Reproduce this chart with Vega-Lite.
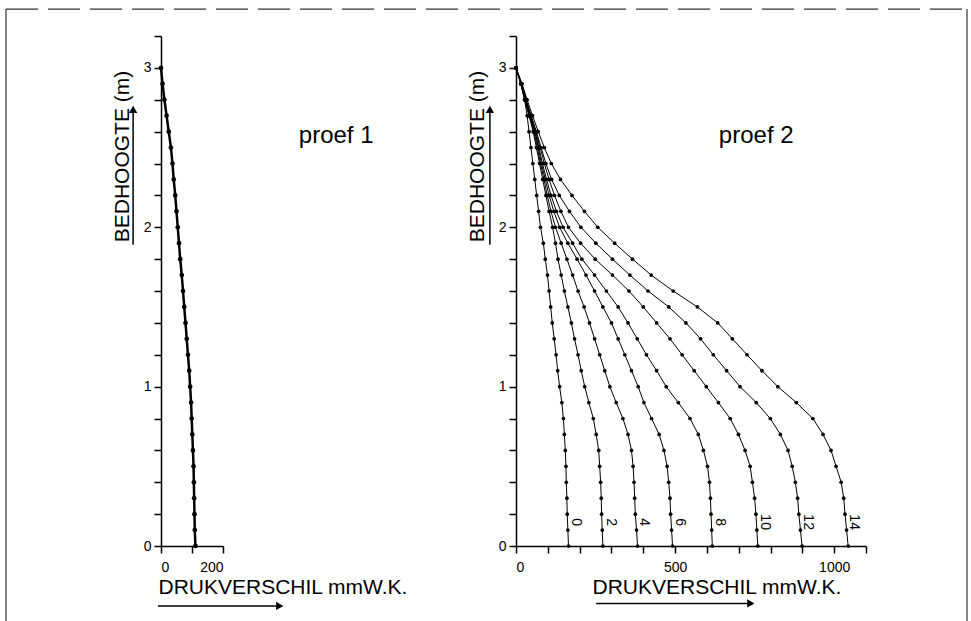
{
  "$schema": "https://vega.github.io/schema/vega-lite/v6.json",
  "padding": {"left": 5, "top": 8, "right": 5, "bottom": 0},
  "background": "white",
  "bounds": "flush",
  "spacing": 293,
  "config": {
    "view": {"stroke": null},
    "font": "Liberation Sans",
    "axis": {
      "domainColor": "black", "domainWidth": 1.5, "tickColor": "black", "tickWidth": 1.5,
      "labelColor": "black", "titleColor": "black", "grid": false,
      "labelFont": "Liberation Sans", "labelFontSize": 14,
      "titleFont": "Liberation Sans",
      "titleFontSize": 21, "titleFontWeight": "normal"
    }
  },
  "datasets": {
    "p1": [
      {"h":3,"d":0},{"h":2.9,"d":5},{"h":2.8,"d":11},{"h":2.7,"d":18},{"h":2.6,"d":25},{"h":2.5,"d":32},{"h":2.4,"d":37},{"h":2.3,"d":41},{"h":2.2,"d":46},{"h":2.1,"d":50},{"h":2,"d":54},{"h":1.9,"d":58},{"h":1.8,"d":62},{"h":1.7,"d":67},{"h":1.6,"d":71},{"h":1.5,"d":75},{"h":1.4,"d":79},{"h":1.3,"d":83},{"h":1.2,"d":87},{"h":1.1,"d":91},{"h":1,"d":94},{"h":0.9,"d":97},{"h":0.8,"d":99},{"h":0.7,"d":101},{"h":0.6,"d":103},{"h":0.5,"d":105},{"h":0.4,"d":106},{"h":0.3,"d":107},{"h":0.2,"d":108},{"h":0.1,"d":109},{"h":0,"d":111}
    ],
    "p2": [
      {"c":"0","h":3,"d":0},{"c":"0","h":2.9,"d":15},{"c":"0","h":2.8,"d":27},{"c":"0","h":2.7,"d":35},{"c":"0","h":2.6,"d":41},{"c":"0","h":2.5,"d":47},{"c":"0","h":2.4,"d":53},{"c":"0","h":2.3,"d":59},{"c":"0","h":2.2,"d":65},{"c":"0","h":2.1,"d":71},{"c":"0","h":2,"d":77},{"c":"0","h":1.9,"d":86},{"c":"0","h":1.8,"d":92},{"c":"0","h":1.7,"d":99},{"c":"0","h":1.6,"d":104},{"c":"0","h":1.5,"d":109},{"c":"0","h":1.4,"d":114},{"c":"0","h":1.3,"d":120},{"c":"0","h":1.2,"d":126},{"c":"0","h":1.1,"d":131},{"c":"0","h":1,"d":137},{"c":"0","h":0.9,"d":144},{"c":"0","h":0.8,"d":149},{"c":"0","h":0.7,"d":152},{"c":"0","h":0.6,"d":155},{"c":"0","h":0.5,"d":157},{"c":"0","h":0.4,"d":158},{"c":"0","h":0.3,"d":160},{"c":"0","h":0.2,"d":161},{"c":"0","h":0.1,"d":163},{"c":"0","h":0,"d":165},
      {"c":"2","h":3,"d":0},{"c":"2","h":2.9,"d":15},{"c":"2","h":2.8,"d":27},{"c":"2","h":2.7,"d":41},{"c":"2","h":2.6,"d":54},{"c":"2","h":2.5,"d":64},{"c":"2","h":2.4,"d":74},{"c":"2","h":2.3,"d":84},{"c":"2","h":2.2,"d":94},{"c":"2","h":2.1,"d":104},{"c":"2","h":2,"d":115},{"c":"2","h":1.9,"d":124},{"c":"2","h":1.8,"d":132},{"c":"2","h":1.7,"d":142},{"c":"2","h":1.6,"d":152},{"c":"2","h":1.5,"d":163},{"c":"2","h":1.4,"d":174},{"c":"2","h":1.3,"d":184},{"c":"2","h":1.2,"d":195},{"c":"2","h":1.1,"d":205},{"c":"2","h":1,"d":216},{"c":"2","h":0.9,"d":229},{"c":"2","h":0.8,"d":243},{"c":"2","h":0.7,"d":252},{"c":"2","h":0.6,"d":260},{"c":"2","h":0.5,"d":263},{"c":"2","h":0.4,"d":266},{"c":"2","h":0.3,"d":268},{"c":"2","h":0.2,"d":269},{"c":"2","h":0.1,"d":271},{"c":"2","h":0,"d":273},
      {"c":"4","h":3,"d":0},{"c":"4","h":2.9,"d":16},{"c":"4","h":2.8,"d":28},{"c":"4","h":2.7,"d":42},{"c":"4","h":2.6,"d":56},{"c":"4","h":2.5,"d":67},{"c":"4","h":2.4,"d":77},{"c":"4","h":2.3,"d":88},{"c":"4","h":2.2,"d":98},{"c":"4","h":2.1,"d":110},{"c":"4","h":2,"d":124},{"c":"4","h":1.9,"d":142},{"c":"4","h":1.8,"d":160},{"c":"4","h":1.7,"d":178},{"c":"4","h":1.6,"d":195},{"c":"4","h":1.5,"d":214},{"c":"4","h":1.4,"d":231},{"c":"4","h":1.3,"d":247},{"c":"4","h":1.2,"d":263},{"c":"4","h":1.1,"d":279},{"c":"4","h":1,"d":295},{"c":"4","h":0.9,"d":315},{"c":"4","h":0.8,"d":336},{"c":"4","h":0.7,"d":352},{"c":"4","h":0.6,"d":363},{"c":"4","h":0.5,"d":368},{"c":"4","h":0.4,"d":371},{"c":"4","h":0.3,"d":373},{"c":"4","h":0.2,"d":375},{"c":"4","h":0.1,"d":379},{"c":"4","h":0,"d":382},
      {"c":"6","h":3,"d":0},{"c":"6","h":2.9,"d":16},{"c":"6","h":2.8,"d":29},{"c":"6","h":2.7,"d":44},{"c":"6","h":2.6,"d":58},{"c":"6","h":2.5,"d":70},{"c":"6","h":2.4,"d":80},{"c":"6","h":2.3,"d":92},{"c":"6","h":2.2,"d":104},{"c":"6","h":2.1,"d":119},{"c":"6","h":2,"d":137},{"c":"6","h":1.9,"d":163},{"c":"6","h":1.8,"d":192},{"c":"6","h":1.7,"d":220},{"c":"6","h":1.6,"d":247},{"c":"6","h":1.5,"d":273},{"c":"6","h":1.4,"d":300},{"c":"6","h":1.3,"d":321},{"c":"6","h":1.2,"d":342},{"c":"6","h":1.1,"d":363},{"c":"6","h":1,"d":384},{"c":"6","h":0.9,"d":402},{"c":"6","h":0.8,"d":426},{"c":"6","h":0.7,"d":450},{"c":"6","h":0.6,"d":465},{"c":"6","h":0.5,"d":475},{"c":"6","h":0.4,"d":480},{"c":"6","h":0.3,"d":484},{"c":"6","h":0.2,"d":486},{"c":"6","h":0.1,"d":489},{"c":"6","h":0,"d":492},
      {"c":"8","h":3,"d":0},{"c":"8","h":2.9,"d":17},{"c":"8","h":2.8,"d":30},{"c":"8","h":2.7,"d":45},{"c":"8","h":2.6,"d":60},{"c":"8","h":2.5,"d":72},{"c":"8","h":2.4,"d":83},{"c":"8","h":2.3,"d":96},{"c":"8","h":2.2,"d":110},{"c":"8","h":2.1,"d":127},{"c":"8","h":2,"d":148},{"c":"8","h":1.9,"d":178},{"c":"8","h":1.8,"d":207},{"c":"8","h":1.7,"d":247},{"c":"8","h":1.6,"d":284},{"c":"8","h":1.5,"d":321},{"c":"8","h":1.4,"d":352},{"c":"8","h":1.3,"d":381},{"c":"8","h":1.2,"d":410},{"c":"8","h":1.1,"d":442},{"c":"8","h":1,"d":472},{"c":"8","h":0.9,"d":510},{"c":"8","h":0.8,"d":547},{"c":"8","h":0.7,"d":573},{"c":"8","h":0.6,"d":589},{"c":"8","h":0.5,"d":602},{"c":"8","h":0.4,"d":608},{"c":"8","h":0.3,"d":611},{"c":"8","h":0.2,"d":613},{"c":"8","h":0.1,"d":615},{"c":"8","h":0,"d":617},
      {"c":"10","h":3,"d":0},{"c":"10","h":2.9,"d":17},{"c":"10","h":2.8,"d":31},{"c":"10","h":2.7,"d":46},{"c":"10","h":2.6,"d":62},{"c":"10","h":2.5,"d":76},{"c":"10","h":2.4,"d":89},{"c":"10","h":2.3,"d":104},{"c":"10","h":2.2,"d":121},{"c":"10","h":2.1,"d":141},{"c":"10","h":2,"d":165},{"c":"10","h":1.9,"d":203},{"c":"10","h":1.8,"d":249},{"c":"10","h":1.7,"d":303},{"c":"10","h":1.6,"d":355},{"c":"10","h":1.5,"d":400},{"c":"10","h":1.4,"d":442},{"c":"10","h":1.3,"d":484},{"c":"10","h":1.2,"d":522},{"c":"10","h":1.1,"d":560},{"c":"10","h":1,"d":598},{"c":"10","h":0.9,"d":636},{"c":"10","h":0.8,"d":673},{"c":"10","h":0.7,"d":699},{"c":"10","h":0.6,"d":720},{"c":"10","h":0.5,"d":736},{"c":"10","h":0.4,"d":743},{"c":"10","h":0.3,"d":750},{"c":"10","h":0.2,"d":754},{"c":"10","h":0.1,"d":757},{"c":"10","h":0,"d":760},
      {"c":"12","h":3,"d":0},{"c":"12","h":2.9,"d":18},{"c":"12","h":2.8,"d":32},{"c":"12","h":2.7,"d":48},{"c":"12","h":2.6,"d":64},{"c":"12","h":2.5,"d":79},{"c":"12","h":2.4,"d":94},{"c":"12","h":2.3,"d":112},{"c":"12","h":2.2,"d":136},{"c":"12","h":2.1,"d":168},{"c":"12","h":2,"d":204},{"c":"12","h":1.9,"d":251},{"c":"12","h":1.8,"d":303},{"c":"12","h":1.7,"d":358},{"c":"12","h":1.6,"d":415},{"c":"12","h":1.5,"d":480},{"c":"12","h":1.4,"d":534},{"c":"12","h":1.3,"d":580},{"c":"12","h":1.2,"d":620},{"c":"12","h":1.1,"d":662},{"c":"12","h":1,"d":704},{"c":"12","h":0.9,"d":755},{"c":"12","h":0.8,"d":799},{"c":"12","h":0.7,"d":831},{"c":"12","h":0.6,"d":855},{"c":"12","h":0.5,"d":868},{"c":"12","h":0.4,"d":878},{"c":"12","h":0.3,"d":885},{"c":"12","h":0.2,"d":889},{"c":"12","h":0.1,"d":894},{"c":"12","h":0,"d":899},
      {"c":"14","h":3,"d":0},{"c":"14","h":2.9,"d":19},{"c":"14","h":2.8,"d":35},{"c":"14","h":2.7,"d":52},{"c":"14","h":2.6,"d":70},{"c":"14","h":2.5,"d":89},{"c":"14","h":2.4,"d":111},{"c":"14","h":2.3,"d":140},{"c":"14","h":2.2,"d":176},{"c":"14","h":2.1,"d":215},{"c":"14","h":2,"d":257},{"c":"14","h":1.9,"d":310},{"c":"14","h":1.8,"d":366},{"c":"14","h":1.7,"d":425},{"c":"14","h":1.6,"d":494},{"c":"14","h":1.5,"d":570},{"c":"14","h":1.4,"d":634},{"c":"14","h":1.3,"d":680},{"c":"14","h":1.2,"d":726},{"c":"14","h":1.1,"d":773},{"c":"14","h":1,"d":823},{"c":"14","h":0.9,"d":881},{"c":"14","h":0.8,"d":933},{"c":"14","h":0.7,"d":965},{"c":"14","h":0.6,"d":990},{"c":"14","h":0.5,"d":1006},{"c":"14","h":0.4,"d":1022},{"c":"14","h":0.3,"d":1030},{"c":"14","h":0.2,"d":1034},{"c":"14","h":0.1,"d":1039},{"c":"14","h":0,"d":1044}
    ]
  },
  "hconcat": [
    {
      "width": 62, "height": 510,
      "layer": [
        {
          "data": {"name": "p1"},
          "mark": {"type": "line", "color": "black", "strokeWidth": 2.5},
          "encoding": {
            "x": {"field": "d", "type": "quantitative", "scale": {"domain": [0, 200], "nice": false},
              "axis": {"values": [0, 100, 200], "tickCount": 100, "labelOverlap": false, "labelExpr": "datum.value === 100 ? '' : format(datum.value, 'd')", "tickSize": 7, "labelPadding": 7,
                "title": "DRUKVERSCHIL mmW.K.", "titleAnchor": "start", "titleAlign": "left", "titleX": -3, "titlePadding": 2}},
            "y": {"field": "h", "type": "quantitative", "scale": {"domain": [0, 3.2], "nice": false},
              "axis": {"values": [0,0.2,0.4,0.6,0.8,1,1.2,1.4,1.6,1.8,2,2.2,2.4,2.6,2.8,3,3.2], "tickCount": 100, "labelOverlap": false, "labelExpr": "datum.value % 1 === 0 ? format(datum.value, 'd') : ''",
                "tickSize": 7, "labelPadding": 3, "title": "BEDHOOGTE  (m)", "titleY": 120, "titlePadding": 11}},
            "order": {"field": "h", "sort": "descending"}
          }
        },
        {
          "data": {"name": "p1"},
          "mark": {"type": "point", "filled": true, "color": "black", "size": 22, "opacity": 1},
          "encoding": {"x": {"field": "d", "type": "quantitative"}, "y": {"field": "h", "type": "quantitative"}}
        },
        {
          "data": {"values": [{"t": "proef 1"}]},
          "mark": {"type": "text", "fontSize": 24, "font": "Liberation Sans", "color": "black"},
          "encoding": {"x": {"datum": 565}, "y": {"datum": 2.57}, "text": {"field": "t"}}
        },
        {
          "data": {"values": [{}]},
          "mark": {"type": "rule", "color": "black", "strokeWidth": 1.5},
          "encoding": {"x": {"datum": -10}, "x2": {"datum": 380}, "y": {"datum": -0.376}}
        },
        {
          "data": {"values": [{}]},
          "mark": {"type": "point", "shape": "triangle-right", "filled": true, "color": "black", "size": 70, "opacity": 1},
          "encoding": {"x": {"datum": 383}, "y": {"datum": -0.376}}
        },
        {
          "data": {"values": [{}]},
          "mark": {"type": "rule", "color": "black", "strokeWidth": 1.5},
          "encoding": {"x": {"datum": -90}, "y": {"datum": 1.89}, "y2": {"datum": 2.72}}
        },
        {
          "data": {"values": [{}]},
          "mark": {"type": "point", "shape": "triangle-up", "filled": true, "color": "black", "size": 70, "opacity": 1},
          "encoding": {"x": {"datum": -90}, "y": {"datum": 2.74}}
        },
        {
          "data": {"values": [{}]},
          "mark": {"type": "rule", "color": "#333", "strokeWidth": 1.2, "strokeDash": [32, 10]},
          "encoding": {"x": {"datum": -500}, "x2": {"datum": 2600}, "y": {"datum": 3.369}}
        },
        {
          "data": {"values": [{}]},
          "mark": {"type": "rule", "color": "#333", "strokeWidth": 1.2},
          "encoding": {"x": {"datum": -500}, "y": {"datum": 3.369}, "y2": {"datum": -0.48}}
        },
        {
          "data": {"values": [{}]},
          "mark": {"type": "rule", "color": "#333", "strokeWidth": 1.2},
          "encoding": {"x": {"datum": 2600}, "y": {"datum": 3.369}, "y2": {"datum": -0.48}}
        }
      ]
    },
    {
      "width": 350, "height": 510,
      "layer": [
        {
          "data": {"name": "p2"},
          "mark": {"type": "line", "color": "black", "strokeWidth": 1},
          "encoding": {
            "x": {"field": "d", "type": "quantitative", "scale": {"domain": [0, 1100], "nice": false},
              "axis": {"values": [0,100,200,300,400,500,600,700,800,900,1000,1100], "tickCount": 100, "labelOverlap": false, "labelExpr": "datum.value % 500 === 0 ? format(datum.value, 'd') : ''", "tickSize": 7, "labelPadding": 7,
                "title": "DRUKVERSCHIL  mmW.K.", "titleAnchor": "start", "titleAlign": "left", "titleX": 76, "titlePadding": 2}},
            "y": {"field": "h", "type": "quantitative", "scale": {"domain": [0, 3.2], "nice": false},
              "axis": {"values": [0,0.2,0.4,0.6,0.8,1,1.2,1.4,1.6,1.8,2,2.2,2.4,2.6,2.8,3,3.2], "tickCount": 100, "labelOverlap": false, "labelExpr": "datum.value % 1 === 0 ? format(datum.value, 'd') : ''",
                "tickSize": 7, "labelPadding": 3, "title": "BEDHOOGTE  (m)", "titleY": 120, "titlePadding": 11}},
            "detail": {"field": "c"},
            "order": {"field": "h", "sort": "descending"}
          }
        },
        {
          "data": {"name": "p2"},
          "mark": {"type": "point", "filled": true, "color": "black", "size": 14, "opacity": 1},
          "encoding": {"x": {"field": "d", "type": "quantitative"}, "y": {"field": "h", "type": "quantitative"}}
        },
        {
          "data": {"name": "p2"},
          "transform": [{"filter": "datum.h === 0.2"}],
          "mark": {"type": "text", "angle": 90, "fontSize": 14, "font": "Liberation Sans", "color": "black", "align": "center", "baseline": "middle", "dx": 8, "dy": -9},
          "encoding": {"x": {"field": "d", "type": "quantitative"}, "y": {"field": "h", "type": "quantitative"}, "text": {"field": "c"}}
        },
        {
          "data": {"values": [{"t": "proef 2"}]},
          "mark": {"type": "text", "fontSize": 24, "font": "Liberation Sans", "color": "black"},
          "encoding": {"x": {"datum": 755}, "y": {"datum": 2.57}, "text": {"field": "t"}}
        },
        {
          "data": {"values": [{}]},
          "mark": {"type": "rule", "color": "black", "strokeWidth": 1.5},
          "encoding": {"x": {"datum": 252}, "x2": {"datum": 735}, "y": {"datum": -0.36}}
        },
        {
          "data": {"values": [{}]},
          "mark": {"type": "point", "shape": "triangle-right", "filled": true, "color": "black", "size": 70, "opacity": 1},
          "encoding": {"x": {"datum": 738}, "y": {"datum": -0.36}}
        },
        {
          "data": {"values": [{}]},
          "mark": {"type": "rule", "color": "black", "strokeWidth": 1.5},
          "encoding": {"x": {"datum": -82}, "y": {"datum": 1.89}, "y2": {"datum": 2.72}}
        },
        {
          "data": {"values": [{}]},
          "mark": {"type": "point", "shape": "triangle-up", "filled": true, "color": "black", "size": 70, "opacity": 1},
          "encoding": {"x": {"datum": -82}, "y": {"datum": 2.74}}
        }
      ]
    }
  ]
}
